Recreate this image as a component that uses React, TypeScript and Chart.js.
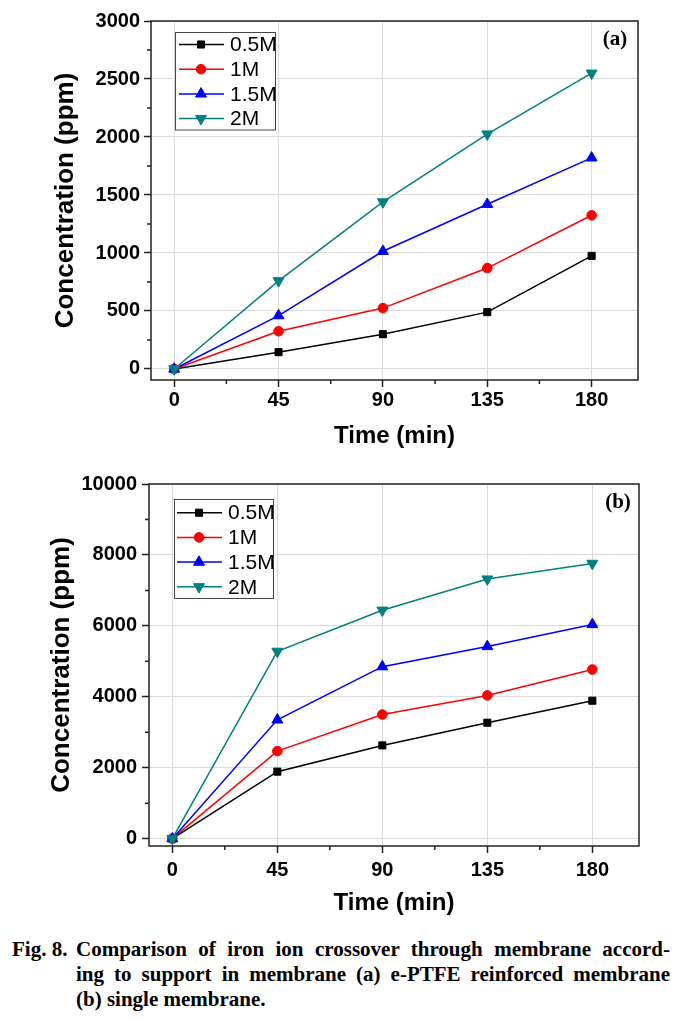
import React, { useEffect, useRef } from 'react';
import { Chart, registerables } from 'chart.js';
import { drawPoint } from 'chart.js/helpers';

Chart.register(...registerables);

// ---------- data ----------
const timeMin = [0, 45, 90, 135, 180];
const seriesLabels = ['0.5M', '1M', '1.5M', '2M'];

const a05 = [0, 145, 300, 490, 975];
const a10 = [0, 325, 525, 870, 1325];
const a15 = [0, 460, 1015, 1420, 1820];
const a20 = [0, 760, 1440, 2025, 2550];

const b05 = [0, 1890, 2630, 3270, 3890];
const b10 = [0, 2470, 3500, 4040, 4770];
const b15 = [0, 3350, 4850, 5420, 6040];
const b20 = [0, 5280, 6440, 7320, 7760];

const xTicks = [0, 45, 90, 135, 180];
const xMinorTicks = [22.5, 67.5, 112.5, 157.5];
const aYTicks = [0, 500, 1000, 1500, 2000, 2500, 3000];
const aYMinorTicks = [250, 750, 1250, 1750, 2250, 2750];
const bYTicks = [0, 2000, 4000, 6000, 8000, 10000];
const bYMinorTicks = [1000, 3000, 5000, 7000, 9000];

// ---------- styles ----------
const COLORS = ['#000000', '#ff0000', '#0000ff', '#008080'];
const STYLES = ['rect', 'circle', 'triangle', 'triangle'];
const ROTS = [0, 0, 0, 180];
const RADII = [5, 4.8, 6.3, 6.3];
const SANS = "'Liberation Sans', Arial, sans-serif";
const SERIF = "'Liberation Serif', 'Times New Roman', serif";

type PanelCfg = {
  series: number[][];
  yMin: number;
  yMax: number;
  yTicks: number[];
  yMinor: number[];
  padTop: number;
  padRight: number;
  yWidth: number;
  xHeight: number;
  xTickPad: number;
  yTickPad: number;
  xTitlePadBottom: number;
  yTitlePadTop: number;
  panel: string;
  panelX: number;
  panelY: number;
  legend: { x: number; y: number; w: number; h: number; lx0: number; lx1: number; mx: number; tx: number; ry: number; dy: number };
};

function makePlugin(cfg: PanelCfg) {
  return {
    id: 'decor',
    beforeDatasetsDraw(chart: any) {
      const ctx = chart.ctx;
      const { left, right, top, bottom } = chart.chartArea;
      const xs = chart.scales.x;
      const ys = chart.scales.y;
      ctx.save();
      ctx.strokeStyle = '#222';
      ctx.lineWidth = 1.5;
      ctx.beginPath();
      xMinorTicks.forEach((v) => {
        const p = xs.getPixelForValue(v);
        ctx.moveTo(p, bottom);
        ctx.lineTo(p, bottom + 4);
      });
      cfg.yMinor.forEach((v) => {
        const p = ys.getPixelForValue(v);
        ctx.moveTo(left, p);
        ctx.lineTo(left - 4, p);
      });
      ctx.stroke();
      ctx.strokeRect(left, top, right - left, bottom - top);
      ctx.restore();
    },
    afterDatasetsDraw(chart: any) {
      const ctx = chart.ctx;
      const L = cfg.legend;
      ctx.save();
      ctx.fillStyle = '#ffffff';
      ctx.fillRect(L.x, L.y, L.w, L.h);
      ctx.strokeStyle = '#444';
      ctx.lineWidth = 1;
      ctx.strokeRect(L.x, L.y, L.w, L.h);
      chart.data.datasets.forEach((ds: any, i: number) => {
        const y = L.ry + L.dy * i;
        ctx.strokeStyle = ds.borderColor;
        ctx.lineWidth = 1.5;
        ctx.beginPath();
        ctx.moveTo(L.lx0, y);
        ctx.lineTo(L.lx1, y);
        ctx.stroke();
        ctx.fillStyle = ds.backgroundColor;
        ctx.strokeStyle = ds.borderColor;
        ctx.lineWidth = 1;
        drawPoint(ctx, { pointStyle: ds.pointStyle, rotation: ds.pointRotation, radius: ds.pointRadius, borderWidth: 1 }, L.mx, y);
        ctx.fillStyle = '#000';
        ctx.font = `21px ${SANS}`;
        ctx.textBaseline = 'middle';
        ctx.textAlign = 'left';
        ctx.fillText(ds.label, L.tx, y + 1);
      });
      ctx.fillStyle = '#000';
      ctx.font = `bold 21px ${SERIF}`;
      ctx.textAlign = 'center';
      ctx.textBaseline = 'middle';
      ctx.fillText(cfg.panel, cfg.panelX, cfg.panelY);
      ctx.restore();
    },
  };
}

function buildConfig(cfg: PanelCfg): any {
  const datasets = cfg.series.map((vals, i) => ({
    label: seriesLabels[i],
    data: timeMin.map((t, k) => ({ x: t, y: vals[k] })),
    borderColor: COLORS[i],
    backgroundColor: COLORS[i],
    borderWidth: 1.5,
    pointStyle: STYLES[i],
    pointRotation: ROTS[i],
    pointRadius: RADII[i],
    pointBorderWidth: 1,
    tension: 0,
    order: 3 - i,
  }));
  return {
    type: 'line',
    data: { datasets },
    plugins: [makePlugin(cfg)],
    options: {
      responsive: false,
      animation: false,
      devicePixelRatio: 1,
      layout: { padding: { left: 0, top: cfg.padTop, right: cfg.padRight, bottom: 5 } },
      plugins: { legend: { display: false }, tooltip: { enabled: false } },
      scales: {
        x: {
          type: 'linear',
          min: -10,
          max: 200,
          afterBuildTicks: (s: any) => {
            s.ticks = xTicks.map((v) => ({ value: v }));
          },
          afterFit: (s: any) => {
            s.height = cfg.xHeight;
          },
          grid: { color: '#dcdcdc', lineWidth: 1, drawTicks: true, tickLength: 7, tickColor: '#222', tickWidth: 1.5 },
          border: { display: false },
          ticks: {
            autoSkip: false,
            maxRotation: 0,
            padding: cfg.xTickPad,
            color: '#000',
            font: { family: SANS, size: 20, weight: 'bold' },
            callback: (v: any) => String(v),
          },
          title: {
            display: true,
            text: 'Time (min)',
            color: '#000',
            font: { family: SANS, size: 24, weight: 'bold' },
            padding: { top: 0, bottom: cfg.xTitlePadBottom },
          },
        },
        y: {
          type: 'linear',
          min: cfg.yMin,
          max: cfg.yMax,
          afterBuildTicks: (s: any) => {
            s.ticks = cfg.yTicks.map((v) => ({ value: v }));
          },
          afterFit: (s: any) => {
            s.width = cfg.yWidth;
          },
          grid: { color: '#dcdcdc', lineWidth: 1, drawTicks: true, tickLength: 7, tickColor: '#222', tickWidth: 1.5 },
          border: { display: false },
          ticks: {
            autoSkip: false,
            padding: cfg.yTickPad,
            color: '#000',
            font: { family: SANS, size: 20, weight: 'bold' },
            callback: (v: any) => String(v),
          },
          title: {
            display: true,
            text: 'Concentration (ppm)',
            color: '#000',
            font: { family: SANS, size: 26, weight: 'bold' },
            padding: { top: cfg.yTitlePadTop, bottom: 0 },
          },
        },
      },
    },
  };
}

const panelA: PanelCfg = {
  series: [a05, a10, a15, a20],
  yMin: -95,
  yMax: 3000,
  yTicks: aYTicks,
  yMinor: aYMinorTicks,
  padTop: 21,
  padRight: 57,
  yWidth: 151,
  xHeight: 75,
  xTickPad: 1,
  yTickPad: 4,
  xTitlePadBottom: 4.6,
  yTitlePadTop: 50,
  panel: '(a)',
  panelX: 615,
  panelY: 40,
  legend: { x: 175.5, y: 32.5, w: 100, h: 97.5, lx0: 179, lx1: 224, mx: 201, tx: 230, ry: 44.5, dy: 24.7 },
};

const panelB: PanelCfg = {
  series: [b05, b10, b15, b20],
  yMin: -206,
  yMax: 10000,
  yTicks: bYTicks,
  yMinor: bYMinorTicks,
  padTop: 19,
  padRight: 56,
  yWidth: 149,
  xHeight: 74,
  xTickPad: 5,
  yTickPad: 5,
  xTitlePadBottom: 2.6,
  yTitlePadTop: 46,
  panel: '(b)',
  panelX: 618,
  panelY: 38,
  legend: { x: 174.5, y: 34.5, w: 99, h: 99, lx0: 177, lx1: 222, mx: 199, tx: 228, ry: 47.7, dy: 24.7 },
};

function ChartPanel({ cfg, top }: { cfg: PanelCfg; top: number }) {
  const ref = useRef<HTMLCanvasElement | null>(null);
  useEffect(() => {
    if (!ref.current) return;
    const chart = new Chart(ref.current, buildConfig(cfg));
    return () => chart.destroy();
  }, [cfg]);
  return (
    <canvas
      ref={ref}
      width={695}
      height={460}
      style={{ position: 'absolute', left: 0, top, width: 695, height: 460, display: 'block' }}
    />
  );
}

const captionStyle: React.CSSProperties = {
  fontFamily: SERIF,
  fontWeight: 'bold',
  fontSize: 21,
  lineHeight: '25px',
  color: '#000',
  whiteSpace: 'nowrap',
};

export default function App() {
  return (
    <div style={{ position: 'absolute', left: 0, top: 0, width: 695, height: 1020, background: '#fff', overflow: 'hidden' }}>
      <ChartPanel cfg={panelA} top={0} />
      <ChartPanel cfg={panelB} top={465} />
      <div style={{ ...captionStyle, position: 'absolute', left: 12, top: 937 }}>Fig. 8.</div>
      <div style={{ position: 'absolute', left: 76, top: 937, width: 594 }}>
        <div style={{ ...captionStyle, textAlign: 'justify', textAlignLast: 'justify' }}>
          Comparison of iron ion crossover through membrane accord-
        </div>
        <div style={{ ...captionStyle, textAlign: 'justify', textAlignLast: 'justify' }}>
          ing to support in membrane (a) e-PTFE reinforced membrane
        </div>
        <div style={{ ...captionStyle, textAlign: 'left' }}>(b) single membrane.</div>
      </div>
    </div>
  );
}
